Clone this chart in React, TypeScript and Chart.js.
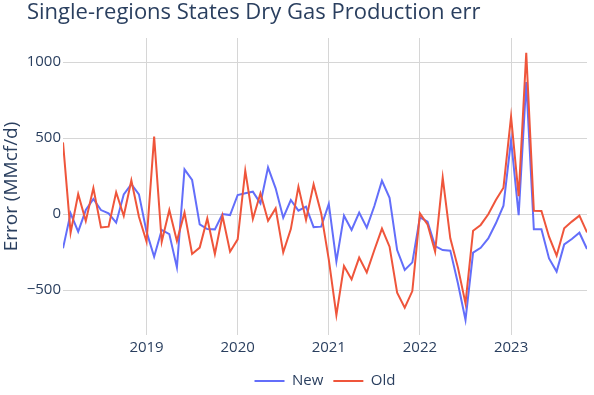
import React, { useEffect, useRef } from "react";
import { Chart, registerables } from "chart.js";

Chart.register(...registerables);

const TITLE = "Single-regions States Dry Gas Production err";
const Y_TITLE = "Error (MMcf/d)";

const months = [
  "2018-02", "2018-03", "2018-04", "2018-05", "2018-06", "2018-07", "2018-08", "2018-09", "2018-10", "2018-11", "2018-12",
  "2019-01", "2019-02", "2019-03", "2019-04", "2019-05", "2019-06", "2019-07", "2019-08", "2019-09", "2019-10", "2019-11", "2019-12",
  "2020-01", "2020-02", "2020-03", "2020-04", "2020-05", "2020-06", "2020-07", "2020-08", "2020-09", "2020-10", "2020-11", "2020-12",
  "2021-01", "2021-02", "2021-03", "2021-04", "2021-05", "2021-06", "2021-07", "2021-08", "2021-09", "2021-10", "2021-11", "2021-12",
  "2022-01", "2022-02", "2022-03", "2022-04", "2022-05", "2022-06", "2022-07", "2022-08", "2022-09", "2022-10", "2022-11", "2022-12",
  "2023-01", "2023-02", "2023-03", "2023-04", "2023-05", "2023-06", "2023-07", "2023-08", "2023-09", "2023-10", "2023-11",
];

const newErr = [
  -226, 4, -116, 26, 99, 26, 4, -57, 129, 197, 129,
  -116, -281, -105, -132, -351, 294, 224, -68, -99, -101, 0, -7,
  125, 136, 147, 70, 307, 169, -24, 92, 22, 48, -86, -83,
  66, -312, -11, -105, 9, -90, 53, 219, 107, -237, -368, -318,
  -22, -50, -211, -237, -241, -456, -697, -254, -222, -160, -61, 55,
  487, -7, 868, -101, -101, -292, -379, -200, -164, -123, -230,
];

const oldErr = [
  471, -123, 132, -46, 171, -88, -83, 143, -13, 221, -18,
  -182, 509, -182, 26, -178, 9, -263, -221, -29, -263, -11, -248,
  -167, 285, -33, 136, -44, 37, -252, -99, 180, -39, 195, 4,
  -300, -665, -342, -430, -287, -384, -237, -96, -215, -518, -616, -507,
  4, -68, -248, 239, -160, -351, -588, -110, -72, -2, 92, 173,
  640, 118, 1061, 22, 20, -149, -274, -94, -50, -11, -121,
];

const yearTicks = [2019, 2020, 2021, 2022, 2023];
const yTicks = [-500, 0, 500, 1000];
const Y_MIN = -796;
const Y_MAX = 1158;

const FONT = "'Open Sans', verdana, arial, sans-serif";
const TEXT = "#2a3f5f";
const GRID = "#d6d6d6";
const BLUE = "#636efa";
const RED = "#EF553B";

function monthIndex(label: string): number {
  const [y, m] = label.split("-").map(Number);
  return (y - 2018) * 12 + (m - 1);
}

const titlePlugin = {
  id: "plotTitle",
  afterDraw(chart: any) {
    const ctx = chart.ctx;
    ctx.save();
    ctx.font = `22px ${FONT}`;
    ctx.fillStyle = TEXT;
    ctx.textAlign = "left";
    ctx.textBaseline = "alphabetic";
    ctx.fillText(TITLE, 27, 18.5);
    ctx.restore();
  },
};

export default function App() {
  const ref = useRef<HTMLCanvasElement | null>(null);

  useEffect(() => {
    document.body.style.margin = "0";
    const canvas = ref.current;
    if (!canvas) return;
    const xs = months.map(monthIndex);
    const chart = new Chart(canvas, {
      type: "line",
      data: {
        datasets: [
          {
            label: "New",
            data: xs.map((x, i) => ({ x, y: newErr[i] })),
            borderColor: BLUE,
            backgroundColor: BLUE,
            borderWidth: 2,
            pointRadius: 0,
            tension: 0,
            order: 1,
          },
          {
            label: "Old",
            data: xs.map((x, i) => ({ x, y: oldErr[i] })),
            borderColor: RED,
            backgroundColor: RED,
            borderWidth: 2,
            pointRadius: 0,
            tension: 0,
            order: 0,
          },
        ],
      },
      options: {
        responsive: false,
        animation: false,
        layout: { padding: { top: 38, right: 7, left: 0, bottom: -3.5 } },
        scales: {
          x: {
            type: "linear",
            min: xs[0],
            max: xs[xs.length - 1],
            afterBuildTicks: (s: any) => {
              s.ticks = yearTicks.map((y) => ({ value: (y - 2018) * 12 }));
            },
            afterFit: (s: any) => {
              s.height = 28.5;
            },
            ticks: {
              callback: (v: any) => String(2018 + Number(v) / 12),
              font: { family: FONT, size: 15 },
              color: TEXT,
              padding: 4,
              maxRotation: 0,
              autoSkip: false,
            },
            grid: { color: GRID, drawTicks: false, lineWidth: 1 },
            border: { display: false },
          },
          y: {
            min: Y_MIN,
            max: Y_MAX,
            afterBuildTicks: (s: any) => {
              s.ticks = yTicks.map((v) => ({ value: v }));
            },
            afterFit: (s: any) => {
              s.width = 63;
            },
            title: {
              display: true,
              text: Y_TITLE,
              font: { family: FONT, size: 19 },
              color: TEXT,
              padding: 0,
            },
            ticks: {
              callback: (v: any) => (Number(v) < 0 ? "\u2212" + Math.abs(Number(v)) : String(v)),
              font: { family: FONT, size: 15 },
              color: TEXT,
              padding: 2,
              autoSkip: false,
            },
            grid: { color: GRID, drawTicks: false, lineWidth: 1 },
            border: { display: false },
          },
        },
        plugins: {
          title: { display: false },
          tooltip: { enabled: false },
          legend: {
            position: "bottom",
            fullSize: false,
            labels: {
              boxWidth: 30,
              boxHeight: 2,
              padding: 10,
              color: TEXT,
              font: { family: FONT, size: 15 },
              sort: (a: any, b: any) => a.datasetIndex - b.datasetIndex,
              generateLabels: (c: any) =>
                Chart.defaults.plugins.legend.labels.generateLabels(c).map((l: any) => ({
                  ...l,
                  lineWidth: 0,
                  fillStyle: l.strokeStyle,
                })),
            },
          },
        },
      },
      plugins: [titlePlugin],
    } as any);
    return () => chart.destroy();
  }, []);

  return (
    <div style={{ position: "fixed", left: 0, top: 0, width: 594, height: 395, background: "#fff" }}>
      <canvas ref={ref} width={594} height={395} />
    </div>
  );
}
